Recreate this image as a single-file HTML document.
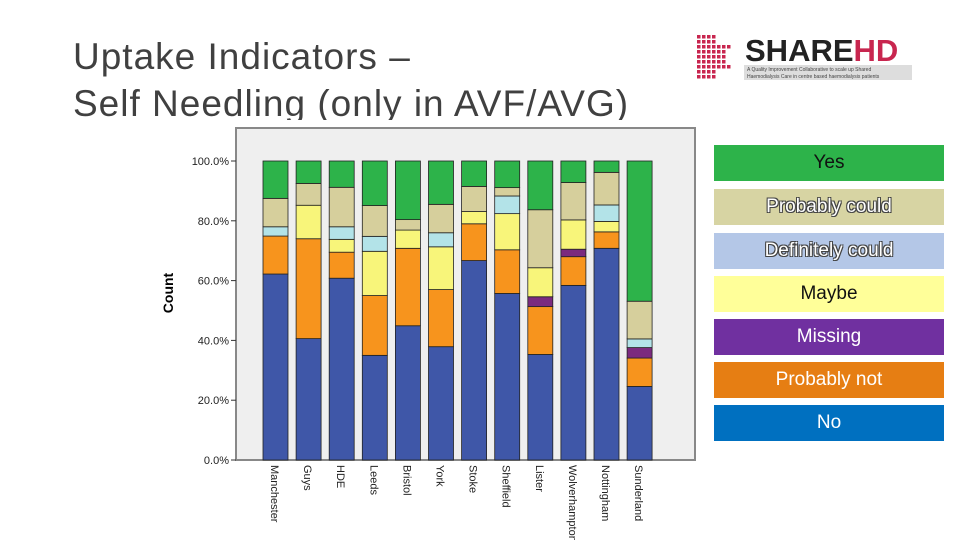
<!DOCTYPE html>
<html><head><meta charset="utf-8"><style>
body{margin:0;width:960px;height:540px;background:#fff;overflow:hidden;position:relative;font-family:"Liberation Sans",sans-serif}
#title{position:absolute;left:73px;top:33px;height:87px;overflow:hidden;font-size:37px;letter-spacing:1px;line-height:47px;color:#404040;font-weight:normal}
.leg{position:absolute;left:714px;width:230px;height:36px;display:flex;align-items:center;justify-content:center;font-size:19px}
.ol{color:#fff;text-shadow:-1px -1px 0 #444,1px -1px 0 #444,-1px 1px 0 #444,1px 1px 0 #444}
</style></head><body>
<div id="title">Uptake Indicators –<br>Self Needling (only in AVF/AVG)</div>
<svg style="position:absolute;left:690px;top:32px" width="230" height="52">
<g fill="#c8264f" id="dots"></g>
<text x="55" y="29" font-size="31" font-weight="bold" font-family="Liberation Sans" fill="#222">SHARE<tspan fill="#c8264f">HD</tspan></text>
<rect x="54" y="33" width="168" height="15" fill="#ddd"/>
<text x="57" y="39" font-size="5" fill="#444">A Quality Improvement Collaborative to scale up Shared</text>
<text x="57" y="46" font-size="5" fill="#444">Haemodialysis Care in centre based haemodialysis patients</text>
</svg>
<svg id="chart" style="position:absolute;left:0;top:0" width="700" height="540">
<rect x="236" y="128" width="459" height="332" fill="#efefef" stroke="#888" stroke-width="2"/>
<text transform="translate(173,293) rotate(-90)" text-anchor="middle" font-size="14" font-weight="bold">Count</text>
<g id="g"></g>
</svg>
<div class="leg" style="top:145px;background:#2db34a;color:#111">Yes</div>
<div class="leg ol" style="top:189px;background:#d7d4a3">Probably could</div>
<div class="leg ol" style="top:233px;background:#b4c7e7">Definitely could</div>
<div class="leg" style="top:276px;background:#ffff99;color:#111">Maybe</div>
<div class="leg" style="top:319px;background:#7030a0;color:#fff">Missing</div>
<div class="leg" style="top:362px;background:#e67e13;color:#fff">Probably not</div>
<div class="leg" style="top:405px;background:#0070c0;color:#fff">No</div>
<script>
const categories=["Manchester","Guys","HDE","Leeds","Bristol","York","Stoke","Sheffield","Lister","Wolverhampton","Nottingham","Sunderland"];
const seriesNames=["No","Probably not","Missing","Maybe","Definitely could","Probably could","Yes"];
const no=[62.2,40.6,60.8,35.0,44.9,37.9,66.7,55.7,35.3,58.4,70.8,24.6];
const probablyNot=[12.7,33.4,8.7,20.0,25.9,19.1,12.3,14.6,16.0,9.6,5.5,9.5];
const missing=[0,0,0,0,0,0,0,0,3.3,2.5,0,3.5];
const maybe=[0,11.2,4.3,14.8,6.1,14.3,4.1,12.1,9.7,9.8,3.5,0];
const definitelyCould=[3.1,0,4.2,5.0,0,4.7,0,5.9,0,0,5.5,2.9];
const probablyCould=[9.5,7.3,13.2,10.3,3.5,9.5,8.4,2.8,19.4,12.5,10.9,12.6];
const yes=[12.5,7.5,8.8,14.9,19.6,14.5,8.5,8.9,16.3,7.2,3.8,46.9];
const yTicks=["0.0%","20.0%","40.0%","60.0%","80.0%","100.0%"];
const series=[no,probablyNot,missing,maybe,definitelyCould,probablyCould,yes];
const colors=["#3f57a8","#f7941d","#7b2a7f","#f8f57a","#b3e3e8","#d6cf9c","#2db34a"];
const NS="http://www.w3.org/2000/svg";
const g=document.getElementById('g');
const y=v=>460-v*2.99;
const x=i=>263+i*33.1;
yTicks.forEach((t,i)=>{
 const tx=document.createElementNS(NS,'text');
 
 
 tx.setAttribute('x',229);tx.setAttribute('y',y(parseFloat(t))+4);
 tx.setAttribute('text-anchor','end');tx.setAttribute('font-size','11');tx.setAttribute('fill','#222');
 tx.textContent=t;g.appendChild(tx);
 const l=document.createElementNS(NS,'line');
 l.setAttribute('x1',231);l.setAttribute('x2',236);l.setAttribute('y1',y(parseFloat(t)));l.setAttribute('y2',y(parseFloat(t)));l.setAttribute('stroke','#333');
 g.appendChild(l);
});
categories.forEach((c,i)=>{
 let cum=0;
 series.forEach((s,k)=>{
  const v=s[i]; if(v<=0) return;
  const r=document.createElementNS(NS,'rect');
  
  
  r.setAttribute('x',x(i));r.setAttribute('width',25);
  r.setAttribute('y',y(cum+v));r.setAttribute('height',v*2.99);
  r.setAttribute('fill',colors[k]);r.setAttribute('stroke','#222');r.setAttribute('stroke-width','0.8');
  g.appendChild(r);cum+=v;
 });
 const tx=document.createElementNS(NS,'text');
 
 
 tx.setAttribute('transform','translate('+(x(i)+8)+',465) rotate(90)');
 tx.setAttribute('font-size','11');tx.setAttribute('fill','#222');
 tx.textContent=c;g.appendChild(tx);
});
const dots=document.getElementById('dots');
for(let r=0;r<9;r++)for(let c=0;c<7;c++){
 const dx=c*5,dy=r*5;
 if((c>3&&(r<2||r>6)) || (c>5&&r>2&&r<6))continue;
 const q=document.createElementNS(NS,'rect');
 q.setAttribute('x',7+dx);q.setAttribute('y',3+dy);q.setAttribute('width',3.5);q.setAttribute('height',3.5);
 dots.appendChild(q);
}
</script>
</body></html>
